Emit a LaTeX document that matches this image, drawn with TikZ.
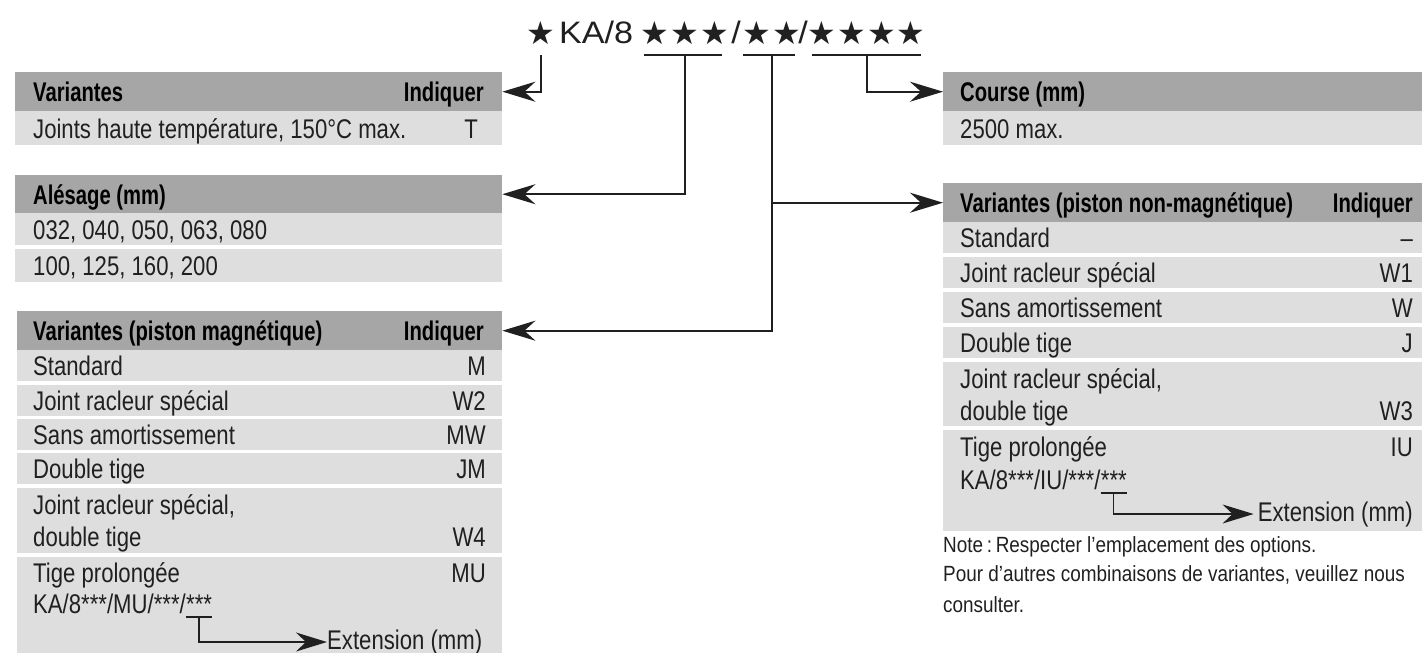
\documentclass[tikz,border=0pt]{standalone}
\usepackage{fontspec}
\setmainfont{Liberation Sans}
\newfontfamily\rgfont{Liberation Sans}[FakeStretch=0.82]
\newfontfamily\hdfont{Liberation Sans}[FakeStretch=0.75]
\newfontfamily\ntfont{Liberation Sans}[FakeStretch=0.86]
\newfontfamily\cdfont{Liberation Sans}[FakeStretch=1.1]
\newfontfamily\starfont{DejaVu Sans}
\usetikzlibrary{arrows.meta,calc}
\definecolor{hdrc}{RGB}{166,166,166}
\definecolor{rowc}{RGB}{222,222,222}
\definecolor{txt}{RGB}{32,32,32}
\begin{document}
\begin{tikzpicture}[x=1pt,y=-1pt,
  hdr/.style={fill=hdrc, inner sep=0pt, anchor=north west},
  rowbox/.style={fill=rowc, inner sep=0pt, anchor=north west},
  lt/.style={anchor=base west, inner sep=0pt, text=txt, font=\rgfont\fontsize{27}{32}\selectfont},
  rt/.style={anchor=base east, inner sep=0pt, text=txt, font=\rgfont\fontsize{27}{32}\selectfont},
  hl/.style={anchor=base west, inner sep=0pt, text=black, font=\hdfont\bfseries\fontsize{27}{32}\selectfont},
  hr/.style={anchor=base east, inner sep=0pt, text=black, font=\hdfont\bfseries\fontsize{27}{32}\selectfont},
  note/.style={anchor=base west, inner sep=0pt, text=txt, font=\ntfont\fontsize{22}{26}\selectfont},
  codetxt/.style={inner sep=0pt, text=txt, font=\cdfont\fontsize{31}{36}\selectfont},
  startxt/.style={anchor=base, inner sep=0pt, text=txt, font=\starfont\fontsize{32}{36}\selectfont},
  conn/.style={line width=2pt, draw=txt},
  thin/.style={line width=1.3pt, draw=txt},
  tip/.style={-{Stealth[length=33pt,width=20pt,inset=11pt]}},
  smalltip/.style={-{Stealth[length=31pt,width=19pt,inset=10pt]}}
]
\fill[white] (0,0) rectangle (1422,653);
\useasboundingbox (0,0) rectangle (1422,653);

% ---------- code line ----------
\node[startxt] (s0) at (541,44) {★};
\node[codetxt, anchor=base west] (ka) at (559,43) {KA/8};
\node[startxt] (g1a) at (655,44) {★};
\node[startxt] (g1b) at (685,44) {★};
\node[startxt] (g1c) at (715,44) {★};
\node[codetxt, anchor=base] (sl1) at (736,43) {/};
\node[startxt] (g2a) at (757,44) {★};
\node[startxt] (g2b) at (787,44) {★};
\node[codetxt, anchor=base] (sl2) at (803,43) {/};
\node[startxt] (g3a) at (822,44) {★};
\node[startxt] (g3b) at (852,44) {★};
\node[startxt] (g3c) at (882,44) {★};
\node[startxt] (g3d) at (911,44) {★};

\draw[conn] (644,55) -- (722,55);
\draw[conn] (743,55) -- (795,55);
\draw[conn] (812,55) -- (921,55);
\coordinate (c0) at (541,55);
\coordinate (c1) at (685,55);
\coordinate (c2) at (772,55);
\coordinate (c3) at (867,55);

% ---------- left table 1 ----------
\node[hdr, minimum width=487pt, minimum height=39pt] (t1h) at (15,72) {};
\node[rowbox, minimum width=487pt, minimum height=34pt] (t1r) at (15,111) {};
\node[hl] at (33,101.5) {Variantes};
\node[hr] at (484,101.5) {Indiquer};
\node[lt] at (33,138) {Joints haute température, 150°C max.};
\node[rt] at (478,138) {T};

% ---------- left table 2 ----------
\node[hdr, minimum width=487pt, minimum height=38pt] (t2h) at (15,175) {};
\node[rowbox, minimum width=487pt, minimum height=32pt] (t2r1) at (15,213) {};
\node[rowbox, minimum width=487pt, minimum height=33pt] (t2r2) at (15,249) {};
\node[hl] at (33,204) {Alésage (mm)};
\node[lt] at (33,239) {032, 040, 050, 063, 080};
\node[lt] at (33,275.5) {100, 125, 160, 200};

% ---------- left table 3 ----------
\node[hdr, minimum width=485pt, minimum height=39pt] (t3h) at (17,311) {};
\node[rowbox, minimum width=485pt, minimum height=31pt] at (17,350) {};
\node[rowbox, minimum width=485pt, minimum height=31pt] at (17,385) {};
\node[rowbox, minimum width=485pt, minimum height=31pt] at (17,419) {};
\node[rowbox, minimum width=485pt, minimum height=31pt] at (17,453) {};
\node[rowbox, minimum width=485pt, minimum height=65pt] at (17,488) {};
\node[rowbox, minimum width=485pt, minimum height=96pt] at (17,557) {};
\node[hl] at (33,340.5) {Variantes (piston magnétique)};
\node[hr] at (484,340.5) {Indiquer};
\node[lt] at (33,375.5) {Standard};            \node[rt] at (486,375.5) {M};
\node[lt] at (33,410.5) {Joint racleur spécial}; \node[rt] at (486,410.5) {W2};
\node[lt] at (33,444.5) {Sans amortissement};   \node[rt] at (486,444.5) {MW};
\node[lt] at (33,478.5) {Double tige};          \node[rt] at (486,478.5) {JM};
\node[lt] at (33,514) {Joint racleur spécial,};
\node[lt] at (33,546) {double tige};            \node[rt] at (486,546) {W4};
\node[lt] at (33,582) {Tige prolongée};         \node[rt] at (486,582) {MU};
\node[lt] (k1) at (33,613) {KA/8***/MU/***/};
\node[lt, anchor=base west] (a1) at (k1.base east) {***};
\node[lt] (ext1) at (327,649) {Extension (mm)};
\draw[thin] (a1.base west) ++(0,4) coordinate (u1l) -- (a1.base east |- u1l) coordinate (u1r);
\coordinate (u1m) at ($(u1l)!0.5!(u1r)$);
\draw[thin, smalltip] (u1m) |- (ext1.west);

% ---------- right table: Course ----------
\node[hdr, minimum width=479pt, minimum height=39pt] (t5h) at (943,72) {};
\node[rowbox, minimum width=479pt, minimum height=34pt] at (943,111) {};
\node[hl] at (960,101.5) {Course (mm)};
\node[lt] at (960,138) {2500 max.};

% ---------- right table: non-magnetic ----------
\node[hdr, minimum width=479pt, minimum height=39pt] (t4h) at (943,183) {};
\node[rowbox, minimum width=479pt, minimum height=31pt] at (943,222) {};
\node[rowbox, minimum width=479pt, minimum height=31pt] at (943,257) {};
\node[rowbox, minimum width=479pt, minimum height=31pt] at (943,292) {};
\node[rowbox, minimum width=479pt, minimum height=31pt] at (943,327) {};
\node[rowbox, minimum width=479pt, minimum height=64pt] at (943,362) {};
\node[rowbox, minimum width=479pt, minimum height=101pt] at (943,430) {};
\node[hl] at (960,212.5) {Variantes (piston non-magnétique)};
\node[hr] at (1413,212.5) {Indiquer};
\node[lt] at (960,247.5) {Standard};             \node[rt] at (1413,247.5) {–};
\node[lt] at (960,282.5) {Joint racleur spécial}; \node[rt] at (1413,282.5) {W1};
\node[lt] at (960,317.5) {Sans amortissement};    \node[rt] at (1413,317.5) {W};
\node[lt] at (960,352.5) {Double tige};           \node[rt] at (1413,352.5) {J};
\node[lt] at (960,388) {Joint racleur spécial,};
\node[lt] at (960,420) {double tige};             \node[rt] at (1413,420) {W3};
\node[lt] at (960,456) {Tige prolongée};          \node[rt] at (1413,456) {IU};
\node[lt] (k2) at (960,489) {KA/8***/IU/***/};
\node[lt, anchor=base west] (a2) at (k2.base east) {***};
\node[rt] (ext2) at (1413,521) {Extension (mm)};
\draw[thin] (a2.base west) ++(0,4) coordinate (u2l) -- (a2.base east |- u2l) coordinate (u2r);
\coordinate (u2m) at ($(u2l)!0.5!(u2r)$);
\draw[thin, smalltip, shorten >=4pt] (u2m) |- (ext2.west);

% ---------- note ----------
\node[note] (n1) at (943,552) {Note\,:\,Respecter l’emplacement des options.};
\node[note] (n2) at (943,581) {Pour d’autres combinaisons de variantes, veuillez nous};
\node[note] (n3) at (943,612) {consulter.};

% ---------- connectors ----------
\draw[conn, tip] (c0) |- (t1h.east);
\draw[conn, tip] (c1) |- (t2h.east);
\draw[conn, tip] (c2) |- (t3h.east);
\draw[conn, tip] (c2 |- t4h.west) -- (t4h.west);
\draw[conn, tip] (c3) |- (t5h.west);
\end{tikzpicture}
\end{document}
